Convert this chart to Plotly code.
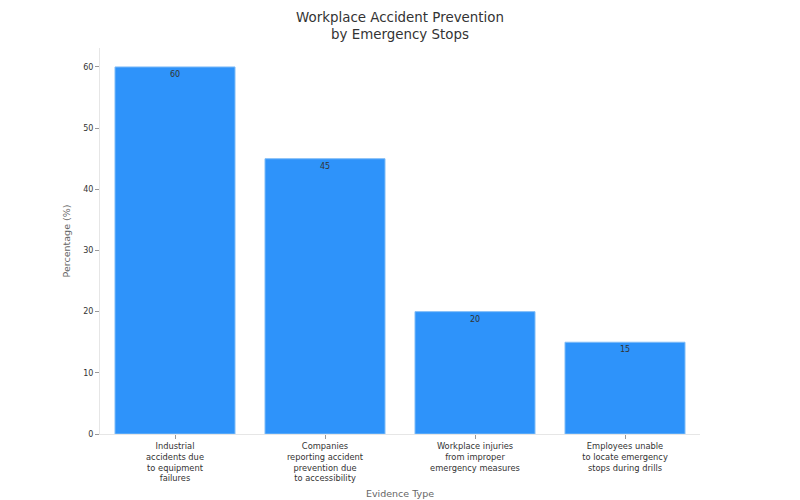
import plotly.graph_objects as go

categories = [
    "Industrial<br>accidents due<br>to equipment<br>failures",
    "Companies<br>reporting accident<br>prevention due<br>to accessibility",
    "Workplace injuries<br>from improper<br>emergency measures",
    "Employees unable<br>to locate emergency<br>stops during drills",
]
values = [60, 45, 20, 15]
value_labels = ["60", "45", "20", "15"]

fig = go.Figure(go.Bar(
    x=categories,
    y=values,
    text=value_labels,
    textposition="inside",
    insidetextanchor="end",
    textfont=dict(color="#333333", size=8),
    marker=dict(color="#2E93FA", line=dict(color="#7fbcf7", width=1)),
    width=0.8,
))

fig.update_layout(
    width=800, height=500,
    font=dict(family="DejaVu Sans", size=8, color="#333333"),
    title=dict(text="Workplace Accident Prevention<br>by Emergency Stops", x=0.5, xanchor="center",
               yref="container", y=0.956, yanchor="top", automargin=False,
               font=dict(size=13.4, color="#333333")),
    plot_bgcolor="white", paper_bgcolor="white",
    margin=dict(l=100, r=100, t=48, b=66),
    showlegend=False,
    xaxis=dict(
        title=dict(text="Evidence Type", font=dict(size=9.5, color="#666666"), standoff=8),
        automargin=False,
        showline=True, linecolor="#e6e6e6", linewidth=1,
        ticks="outside", ticklen=4, tickcolor="#999999",
        tickfont=dict(size=8.3, color="#333333"),
        showgrid=False,
    ),
    yaxis=dict(
        title=dict(text="Percentage (%)", font=dict(size=9.5, color="#666666"), standoff=10),
        automargin=False,
        range=[0, 63.1],
        tickvals=[0, 10, 20, 30, 40, 50, 60],
        showline=True, linecolor="#e6e6e6", linewidth=1,
        ticks="outside", ticklen=4, tickcolor="#999999",
        tickfont=dict(size=8, color="#333333"),
        showgrid=False, zeroline=False,
    ),
    uniformtext=dict(minsize=8, mode="show"),
)

fig.write_html("out.html", config={"displayModeBar": False},
               post_script="document.body.style.margin='0';")
